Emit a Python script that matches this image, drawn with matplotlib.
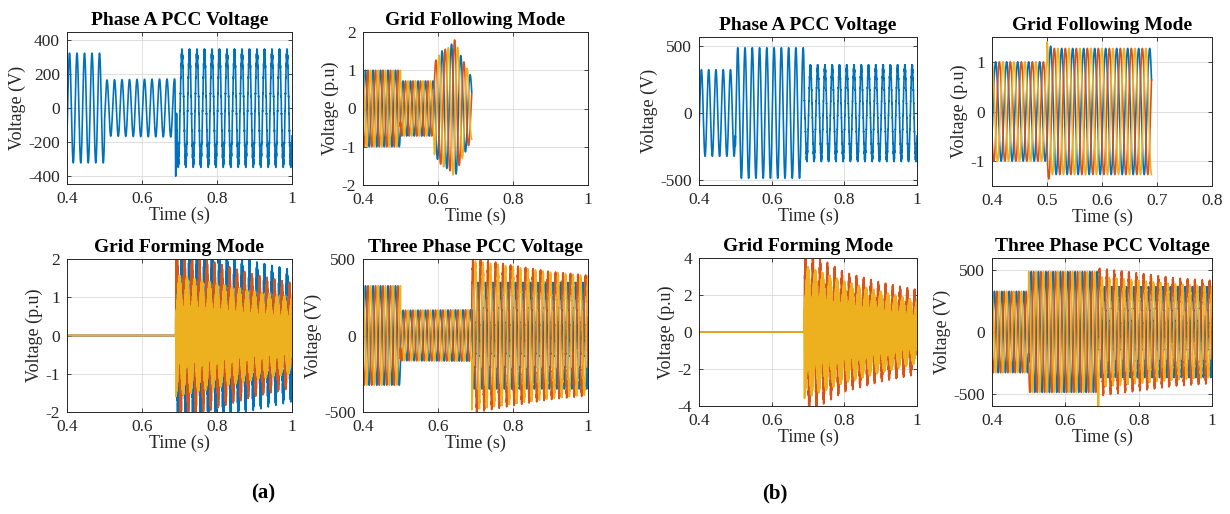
import numpy as np
import matplotlib
matplotlib.use("Agg")
import matplotlib.pyplot as plt

# ========== Data ==========
F_GRID = 50.0        # Hz, fundamental
F_RIP = 1000.0       # Hz, switching ripple that makes the dense bands
PHASE_SHIFT = [0.0, -120.0, 120.0]   # deg, blue / orange / yellow
PHASE0 = -30.0       # deg, phase of the blue phase at t = 0

# (a) Phase A PCC voltage
A_PA_T = [0.40, 0.4999, 0.50, 0.60, 0.6899, 0.69, 1.00]
A_PA_AMP = [325, 325, 166, 170, 172, 330, 330]
A_PA_RIP = [0, 0, 0, 0, 0, 22, 22]
A_PA_SPIKE_T = [0.6880, 0.6900, 0.6920]
A_PA_SPIKE_V = [0, -520, 0]

# (a) Grid following mode (three phases, same envelope)
A_GFL_T = [0.40, 0.4999, 0.50, 0.589, 0.59, 0.61, 0.63, 0.645, 0.66, 0.675, 0.69]
A_GFL_AMP = [1.0, 1.0, 0.72, 0.72, 1.2, 1.5, 1.6, 1.8, 1.4, 1.1, 0.8]
A_GFL_FREQ = [50, 50, 50, 50, 40, 40, 40, 40, 40, 40, 40]
A_GFL_END = 0.69

# (a) Grid forming mode (zero until 0.69 s)
GFM_START = 0.69
A_GFM_T = [0.69, 0.80, 0.90, 1.00]
A_GFM_AMP = [[2.3, 2.0, 1.75, 1.55],    # blue
             [2.0, 1.65, 1.4, 1.2],     # orange
             [0.5, 0.42, 0.36, 0.3]]    # yellow
A_GFM_RIP = [[0.3, 0.25, 0.2, 0.18],
             [0.3, 0.25, 0.2, 0.18],
             [1.1, 0.95, 0.8, 0.7]]

# (a) Three phase PCC voltage
A_3P_T = [0.40, 0.4999, 0.50, 0.6899, 0.69, 0.80, 0.90, 1.00]
A_3P_AMP = [[325, 325, 165, 168, 330, 330, 330, 330],
            [325, 325, 165, 168, 490, 440, 400, 375],
            [325, 325, 165, 168, 470, 430, 395, 370]]
A_3P_RIP = [0, 0, 0, 0, 20, 20, 20, 20]

# (b) Phase A PCC voltage
B_PA_T = [0.40, 0.4999, 0.50, 0.6899, 0.69, 1.00]
B_PA_AMP = [325, 325, 490, 490, 345, 345]
B_PA_RIP = [0, 0, 0, 0, 20, 20]
B_PA_SPIKE_T = [0.6880, 0.6900, 0.6920]
B_PA_SPIKE_V = [0, -80, 0]

# (b) Grid following mode
B_GFL_T = [0.40, 0.4999, 0.50, 0.51, 0.69]
B_GFL_AMP = [1.0, 1.0, 1.4, 1.27, 1.27]
B_GFL_END = 0.69

# (b) Grid forming mode
B_GFM_T = [0.69, 0.80, 0.90, 1.00]
B_GFM_AMP = [[1.5, 1.2, 1.0, 0.8],
             [4.2, 3.0, 2.5, 2.1],
             [1.0, 0.75, 0.6, 0.5]]
B_GFM_RIP = [[0.5, 0.4, 0.35, 0.3],
             [0.3, 0.25, 0.2, 0.2],
             [2.6, 2.0, 1.6, 1.2]]

# (b) Three phase PCC voltage
B_3P_T = [0.40, 0.4999, 0.50, 0.6899, 0.69, 0.80, 0.90, 1.00]
B_3P_AMP = [[330, 330, 490, 490, 350, 350, 350, 350],
            [330, 330, 490, 490, 500, 460, 420, 400],
            [330, 330, 490, 490, 430, 400, 370, 350]]
B_3P_RIP = [0, 0, 0, 0, 20, 20, 20, 20]
B_3P_SPIKE_T = [0.6885, 0.6900, 0.6915]
B_3P_SPIKE_V = [0, -700, 0]

COLORS = ["#0072BD", "#D95319", "#EDB120"]
# ================================================

t = np.linspace(0.4, 1.0, 30001)
dt = t[1] - t[0]


def wave(knots_t, amp, k=0, rip=None, freq=None, spike=None, end=None, start=None):
    if freq is None:
        ph = 2 * np.pi * F_GRID * t
    else:
        f = np.interp(t, knots_t, freq)
        ph = 2 * np.pi * (F_GRID * t[0] + np.cumsum(f) * dt)
    ph = ph + np.deg2rad(PHASE0 + PHASE_SHIFT[k])
    y = np.interp(t, knots_t, amp) * np.sin(ph)
    if rip is not None:
        y = y + np.interp(t, knots_t, rip) * np.sin(2 * np.pi * F_RIP * t + np.deg2rad(PHASE_SHIFT[k]))
    if spike is not None:
        y = y + np.interp(t, spike[0], spike[1], left=0, right=0)
    if start is not None:
        y = np.where(t < start, 0.0, y)
    if end is not None:
        y = np.where(t > end, np.nan, y)
    return y


def px_axes(fig, l, top, r, b):
    W, H = 1230, 514
    return fig.add_axes([l / W, 1 - b / H, (r - l) / W, (b - top) / H])


def style(ax, title, ylabel, ylim, yticks, xlim=(0.4, 1.0), xticks=(0.4, 0.6, 0.8, 1.0), xlabels=None):
    ax.set_xlim(*xlim)
    ax.set_ylim(*ylim)
    ax.set_xticks(xticks)
    ax.set_xticklabels(xlabels if xlabels else ["0.4", "0.6", "0.8", "1"])
    ax.set_yticks(yticks)
    ax.set_yticklabels([str(v) for v in yticks])
    ax.grid(True, color="#d9d9d9", lw=0.6)
    ax.set_axisbelow(True)
    ax.tick_params(direction="in", length=3, width=0.6, labelsize=12.5,
                   colors="#262626", top=True, right=True, pad=5)
    for s in ax.spines.values():
        s.set_color("#262626")
        s.set_linewidth(0.7)
    ax.set_title(title, fontsize=14, fontweight="bold", pad=5)
    ax.set_xlabel("Time (s)", fontsize=13, color="#262626", labelpad=0)
    ax.set_ylabel(ylabel, fontsize=13, color="#262626", labelpad=2)


plt.rcParams["font.family"] = ["Liberation Serif", "DejaVu Serif"]
plt.rcParams["axes.unicode_minus"] = False

fig = plt.figure(figsize=(12.3, 5.14), dpi=100)
LW = 1.2

# ---------- (a) ----------
ax = px_axes(fig, 67, 32, 292, 184)
ax.plot(t, wave(A_PA_T, A_PA_AMP, rip=A_PA_RIP, spike=(A_PA_SPIKE_T, A_PA_SPIKE_V)), color=COLORS[0], lw=LW)
style(ax, "Phase A PCC Voltage", "Voltage (V)", (-450, 450), [-400, -200, 0, 200, 400])

ax = px_axes(fig, 363, 32, 588, 185)
for k in range(3):
    ax.plot(t, wave(A_GFL_T, A_GFL_AMP, k=k, freq=A_GFL_FREQ, end=A_GFL_END), color=COLORS[k], lw=LW)
style(ax, "Grid Following Mode", "Voltage (p.u)", (-2, 2), [-2, -1, 0, 1, 2])

ax = px_axes(fig, 67, 259, 292, 412)
for k in range(3):
    ax.plot(t, wave(A_GFM_T, A_GFM_AMP[k], k=k, rip=A_GFM_RIP[k], start=GFM_START), color=COLORS[k], lw=LW)
style(ax, "Grid Forming Mode", "Voltage (p.u)", (-2, 2), [-2, -1, 0, 1, 2])

ax = px_axes(fig, 363, 259, 588, 412)
for k in range(3):
    ax.plot(t, wave(A_3P_T, A_3P_AMP[k], k=k, rip=A_3P_RIP), color=COLORS[k], lw=LW)
style(ax, "Three Phase PCC Voltage", "Voltage (V)", (-500, 500), [-500, 0, 500])

# ---------- (b) ----------
ax = px_axes(fig, 699, 37, 917, 185)
ax.plot(t, wave(B_PA_T, B_PA_AMP, rip=B_PA_RIP, spike=(B_PA_SPIKE_T, B_PA_SPIKE_V)), color=COLORS[0], lw=LW)
style(ax, "Phase A PCC Voltage", "Voltage (V)", (-540, 570), [-500, 0, 500])

ax = px_axes(fig, 992, 37, 1212, 186)
for k in range(3):
    ax.plot(t, wave(B_GFL_T, B_GFL_AMP, k=k, end=B_GFL_END), color=COLORS[k], lw=LW)
style(ax, "Grid Following Mode", "Voltage (p.u)", (-1.5, 1.5), [-1, 0, 1],
      xlim=(0.4, 0.8), xticks=(0.4, 0.5, 0.6, 0.7, 0.8),
      xlabels=["0.4", "0.5", "0.6", "0.7", "0.8"])

ax = px_axes(fig, 699, 258, 917, 406)
for k in range(3):
    ax.plot(t, wave(B_GFM_T, B_GFM_AMP[k], k=k, rip=B_GFM_RIP[k], start=GFM_START), color=COLORS[k], lw=LW)
style(ax, "Grid Forming Mode", "Voltage (p.u)", (-4, 4), [-4, -2, 0, 2, 4])

ax = px_axes(fig, 992, 258, 1212, 406)
for k in range(3):
    sp = (B_3P_SPIKE_T, B_3P_SPIKE_V) if k == 2 else None
    ax.plot(t, wave(B_3P_T, B_3P_AMP[k], k=k, rip=B_3P_RIP, spike=sp), color=COLORS[k], lw=LW)
style(ax, "Three Phase PCC Voltage", "Voltage (V)", (-600, 600), [-500, 0, 500])

fig.text(263 / 1230, 1 - 493 / 514, "(a)", fontsize=15, fontweight="bold", ha="center", va="center")
fig.text(775 / 1230, 1 - 493 / 514, "(b)", fontsize=15, fontweight="bold", ha="center", va="center")

fig.savefig("out.png", dpi=100)
